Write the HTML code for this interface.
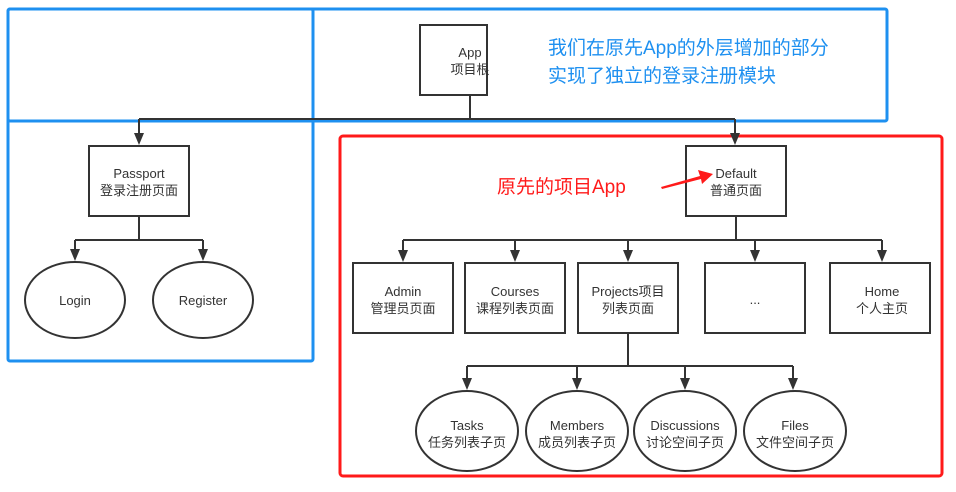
<!DOCTYPE html>
<html><head><meta charset="utf-8"><style>
body{margin:0;background:#fff;}
svg{display:block;font-family:"Liberation Sans","Noto Sans CJK SC",sans-serif;}
</style></head><body>
<svg width="956" height="492" viewBox="0 0 956 492" xmlns="http://www.w3.org/2000/svg">
<rect width="956" height="492" fill="#fff"/>
<g fill="none" stroke="#1e90f0" stroke-width="3">
<rect x="8" y="9" width="879" height="112" rx="2"/>
<rect x="8" y="9" width="305" height="352" rx="2"/>
</g>
<rect x="340" y="136" width="602" height="340" rx="3" fill="none" stroke="#ff1a1a" stroke-width="3"/>
<g stroke="#333" stroke-width="2" fill="none">
<rect x="420" y="25" width="67" height="70" fill="#fff"/>
<path d="M470,95 V119 M139,119 H735 M139,119 V136 M735,119 V136"/>
<rect x="89" y="146" width="100" height="70" fill="#fff"/>
<path d="M139,216 V240 M75,240 H203 M75,240 V252 M203,240 V252"/>
<ellipse cx="75" cy="300" rx="50" ry="38" fill="#fff"/>
<ellipse cx="203" cy="300" rx="50" ry="38" fill="#fff"/>
<rect x="686" y="146" width="100" height="70" fill="#fff"/>
<path d="M736,216 V240 M403,240 H882 M403,240 V252 M515,240 V252 M628,240 V252 M755,240 V252 M882,240 V252"/>
<rect x="353" y="263" width="100" height="70" fill="#fff"/>
<rect x="465" y="263" width="100" height="70" fill="#fff"/>
<rect x="578" y="263" width="100" height="70" fill="#fff"/>
<rect x="705" y="263" width="100" height="70" fill="#fff"/>
<rect x="830" y="263" width="100" height="70" fill="#fff"/>
<path d="M628,333 V366 M467,366 H793 M467,366 V380 M577,366 V380 M685,366 V380 M793,366 V380"/>
<ellipse cx="467" cy="431" rx="51" ry="40" fill="#fff"/>
<ellipse cx="577" cy="431" rx="51" ry="40" fill="#fff"/>
<ellipse cx="685" cy="431" rx="51" ry="40" fill="#fff"/>
<ellipse cx="795" cy="431" rx="51" ry="40" fill="#fff"/>
</g>
<g fill="#333">
<polygon points="134,133 144,133 139,145"/>
<polygon points="730,133 740,133 735,145"/>
<polygon points="70,249 80,249 75,261"/>
<polygon points="198,249 208,249 203,261"/>
<polygon points="398,250 408,250 403,262"/>
<polygon points="510,250 520,250 515,262"/>
<polygon points="623,250 633,250 628,262"/>
<polygon points="750,250 760,250 755,262"/>
<polygon points="877,250 887,250 882,262"/>
<polygon points="462,378 472,378 467,390"/>
<polygon points="572,378 582,378 577,390"/>
<polygon points="680,378 690,378 685,390"/>
<polygon points="788,378 798,378 793,390"/>
</g>
<path d="M661,187 L700,176 L698,170 L713,174 L702,184 L701,179 L662,189 z" fill="#ff1a1a"/>
<g font-size="13" fill="#333" text-anchor="middle">
<text x="470" y="57">App</text><text x="470" y="74">项目根</text>
<text x="139" y="178">Passport</text><text x="139" y="195">登录注册页面</text>
<text x="75" y="305">Login</text><text x="203" y="305">Register</text>
<text x="736" y="178">Default</text><text x="736" y="195">普通页面</text>
<text x="403" y="296">Admin</text><text x="403" y="313">管理员页面</text>
<text x="515" y="296">Courses</text><text x="515" y="313">课程列表页面</text>
<text x="628" y="296">Projects项目</text><text x="628" y="313">列表页面</text>
<text x="755" y="304">...</text>
<text x="882" y="296">Home</text><text x="882" y="313">个人主页</text>
<text x="467" y="430">Tasks</text><text x="467" y="447">任务列表子页</text>
<text x="577" y="430">Members</text><text x="577" y="447">成员列表子页</text>
<text x="685" y="430">Discussions</text><text x="685" y="447">讨论空间子页</text>
<text x="795" y="430">Files</text><text x="795" y="447">文件空间子页</text>
</g>
<text x="497" y="193" font-size="19" fill="#ff1a1a">原先的项目App</text>
<g font-size="19" fill="#1e90f0">
<text x="548" y="54">我们在原先App的外层增加的部分</text>
<text x="548" y="82">实现了独立的登录注册模块</text>
</g>
</svg>
</body></html>
